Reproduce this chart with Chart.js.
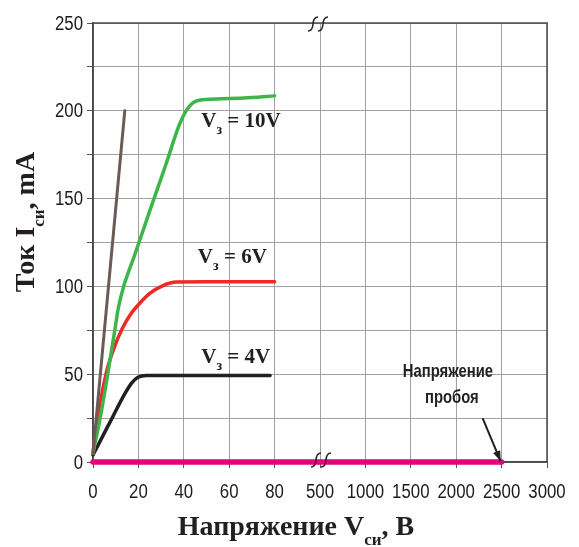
<!DOCTYPE html>
<html><head><meta charset="utf-8">
<script src="https://cdn.jsdelivr.net/npm/chart.js@4.4.1/dist/chart.umd.min.js"></script>
<style>html,body{margin:0;padding:0;background:#fff}canvas{display:block}</style>
</head><body>
<canvas id="c" width="579" height="547"></canvas>
<script>
// ---- data ----
const xTickValues = [0, 20, 40, 60, 80, 500, 1000, 1500, 2000, 2500, 3000];
const yTickStep = 25;
const yLabelStep = 50;

const brownV = [0, 14];
const brownI = [5, 200];

const greenV = [0, 3.3, 6.6, 9.6, 11.2, 13.5, 18.4, 25, 32, 38, 41, 44, 48, 60, 70, 80];
const greenI = [5, 26, 51, 75, 88, 100, 118, 143, 169, 192, 200, 204.5, 206.3, 207, 207.6, 208.5];

const redV = [0, 2.2, 5.9, 9, 12.9, 16.5, 20.6, 25, 30.8, 36.7, 50, 65, 80];
const redI = [5, 26, 51, 64, 76, 84, 90.4, 96, 100.5, 102.5, 102.6, 102.6, 102.6];

const blackV = [0, 4.4, 8.8, 13.2, 16.9, 19.8, 23.5, 40, 60, 78];
const blackI = [4, 15, 26, 37, 44.8, 48.3, 49.3, 49.3, 49.3, 49.3];

const breakdownV = [0, 2500];
const breakdownI = [0, 0];

const curveLabels = ['10V', '6V', '4V'];
const curveLabelV = [47.7, 46.2, 47.7];
const curveLabelI = [191, 113.4, 56.2];

const breakdownText = ['Напряжение', 'пробоя'];

// ---- broken x scale: equal spacing between consecutive tick values ----
function voltToSlot(v) {
  const t = xTickValues;
  if (v <= t[0]) return 0;
  for (let k = 0; k < t.length - 1; k++) {
    if (v <= t[k + 1]) return k + (v - t[k]) / (t[k + 1] - t[k]);
  }
  return t.length - 1;
}
function slotToVolt(s) {
  const t = xTickValues;
  const k = Math.max(0, Math.min(t.length - 2, Math.floor(s)));
  return t[k] + (s - k) * (t[k + 1] - t[k]);
}
class BrokenScale extends Chart.LinearScale {
  determineDataLimits() { this.min = xTickValues[0]; this.max = xTickValues[xTickValues.length - 1]; }
  buildTicks() { return xTickValues.map(v => ({value: v})); }
  getPixelForValue(v) { return this.getPixelForDecimal(voltToSlot(v) / (xTickValues.length - 1)); }
  getValueForPixel(p) { return slotToVolt(this.getDecimalForPixel(p) * (xTickValues.length - 1)); }
}
BrokenScale.id = 'brokenX';
BrokenScale.defaults = {};
Chart.register(BrokenScale);

function pts(xs, ys) { return xs.map((x, i) => ({x: x, y: ys[i]})); }

const serif = "'Liberation Serif','Times New Roman',serif";
const sans = "'Liberation Sans',Arial,sans-serif";
const NARROW = 0.84;

function drawParts(ctx, parts, x, y, align) {
  let total = 0;
  parts.forEach(p => { ctx.font = p.font; p.w = ctx.measureText(p.t).width; total += p.w; });
  let cx = align === 'center' ? x - total / 2 : x;
  parts.forEach(p => {
    ctx.font = p.font;
    ctx.textAlign = 'left';
    ctx.textBaseline = 'alphabetic';
    ctx.fillText(p.t, cx, y + (p.dy || 0));
    cx += p.w;
  });
}
function narrowText(ctx, t, x, y, align, base, k) {
  ctx.save();
  ctx.translate(x, y);
  ctx.scale(k, 1);
  ctx.textAlign = align;
  ctx.textBaseline = base;
  ctx.fillText(t, 0, 0);
  ctx.restore();
}

const decor = {
  id: 'decor',
  beforeDatasetsDraw(chart) {
    const {ctx, chartArea: a} = chart;
    ctx.save();
    ctx.strokeStyle = '#4a4a4a';
    ctx.lineWidth = 1.5;
    ctx.strokeRect(a.left, a.top, a.right - a.left, a.bottom - a.top);
    ctx.restore();
  },
  afterDatasetsDraw(chart) {
    const {ctx, chartArea: a, scales: {x, y}} = chart;
    ctx.save();
    // tick labels (condensed)
    ctx.fillStyle = '#1c1c1c';
    ctx.font = '20px ' + sans;
    x.ticks.forEach(t => {
      narrowText(ctx, String(t.value), x.getPixelForValue(t.value), a.bottom + 30, 'center', 'middle', NARROW);
    });
    y.ticks.forEach(t => {
      if (t.value % yLabelStep === 0)
        narrowText(ctx, String(t.value), a.left - 10, y.getPixelForValue(t.value) + 1, 'right', 'middle', NARROW);
    });
    ctx.fillStyle = '#231f20';
    // curve labels
    const big = 'bold 21px ' + serif, sub = 'bold 14px ' + serif;
    curveLabels.forEach((t, k) => {
      drawParts(ctx, [
        {t: 'V', font: big},
        {t: 'з', font: sub, dy: 7},
        {t: ' = ' + t, font: big}
      ], x.getPixelForValue(curveLabelV[k]), y.getPixelForValue(curveLabelI[k]), 'left');
    });
    // breakdown text
    ctx.font = 'bold 19px ' + sans;
    const tx = (x.getPixelForValue(2000) + x.getPixelForValue(2500)) / 2 - 31;
    narrowText(ctx, breakdownText[0], tx, y.getPixelForValue(51.5), 'center', 'middle', 0.78);
    narrowText(ctx, breakdownText[1], tx + 4, y.getPixelForValue(36.5), 'center', 'middle', 0.78);
    // arrow
    const x1 = x.getPixelForValue(2500) - 19, y1 = y.getPixelForValue(25);
    const x2 = x.getPixelForValue(2500) - 1, y2 = y.getPixelForValue(0.5);
    ctx.strokeStyle = '#231f20';
    ctx.lineWidth = 2;
    ctx.beginPath(); ctx.moveTo(x1, y1); ctx.lineTo(x2, y2); ctx.stroke();
    const ang = Math.atan2(y2 - y1, x2 - x1), L = 11, W = 0.36;
    ctx.beginPath();
    ctx.moveTo(x2, y2);
    ctx.lineTo(x2 - L * Math.cos(ang - W), y2 - L * Math.sin(ang - W));
    ctx.lineTo(x2 - L * Math.cos(ang + W), y2 - L * Math.sin(ang + W));
    ctx.closePath(); ctx.fill();
    // break marks
    function brk(cx, cy) {
      ctx.strokeStyle = '#2a2a2a'; ctx.lineWidth = 1.6;
      for (const off of [-5, 5]) {
        const bx = cx + off;
        ctx.beginPath();
        ctx.moveTo(bx - 6, cy + 7);
        ctx.quadraticCurveTo(bx - 1.5, cy + 7, bx - 1, cy);
        ctx.quadraticCurveTo(bx - 0.5, cy - 7, bx + 4, cy - 7);
        ctx.stroke();
      }
    }
    const bxp = x.getPixelForValue(500);
    brk(bxp - 1, a.top + 1);
    brk(bxp + 2, a.bottom - 2);
    // axis titles
    const tf = 'bold 28px ' + serif, ts = 'bold 17px ' + serif;
    drawParts(ctx, [
      {t: 'Напряжение V', font: tf},
      {t: 'си', font: ts, dy: 10},
      {t: ', В', font: tf}
    ], 296, 535, 'center');
    ctx.save();
    ctx.translate(34, 222);
    ctx.rotate(-Math.PI / 2);
    drawParts(ctx, [
      {t: 'Ток I', font: tf},
      {t: 'си', font: ts, dy: 10},
      {t: ', mA', font: tf}
    ], 0, 0, 'center');
    ctx.restore();
    ctx.restore();
  }
};

const lineDs = (data, color, w) => ({
  data: data, borderColor: color, borderWidth: w, pointRadius: 0, clip: 8,
  fill: false, cubicInterpolationMode: 'monotone', borderCapStyle: 'round', borderJoinStyle: 'round'
});

new Chart(document.getElementById('c'), {
  type: 'line',
  data: {
    datasets: [
      lineDs(pts(brownV, brownI), '#6b5a56', 3),
      lineDs(pts(greenV, greenI), '#3db54a', 3.5),
      lineDs(pts(redV, redI), '#ed2a24', 3.5),
      lineDs(pts(blackV, blackI), '#231f20', 3.5),
      lineDs(pts(breakdownV, breakdownI), '#e6007e', 5.5)
    ]
  },
  options: {
    responsive: false,
    animation: false,
    events: [],
    layout: {padding: {left: 0, top: 23, right: 32, bottom: 0}},
    plugins: {legend: {display: false}, tooltip: {enabled: false}},
    scales: {
      x: {
        type: 'brokenX', position: 'bottom',
        grid: {color: '#a0a0a0', lineWidth: 1, tickLength: 6, tickColor: '#555'},
        border: {color: '#4a4a4a', width: 1.5},
        ticks: {display: false, autoSkip: false, maxRotation: 0},
        afterFit: s => { s.height = 85; }
      },
      y: {
        type: 'linear', min: 0, max: 250,
        grid: {color: '#a0a0a0', lineWidth: 1, tickLength: 6, tickColor: '#555'},
        border: {color: '#4a4a4a', width: 1.5},
        ticks: {display: false, stepSize: yTickStep},
        afterFit: s => { s.width = 93; }
      }
    }
  },
  plugins: [decor]
});
</script>
</body></html>
